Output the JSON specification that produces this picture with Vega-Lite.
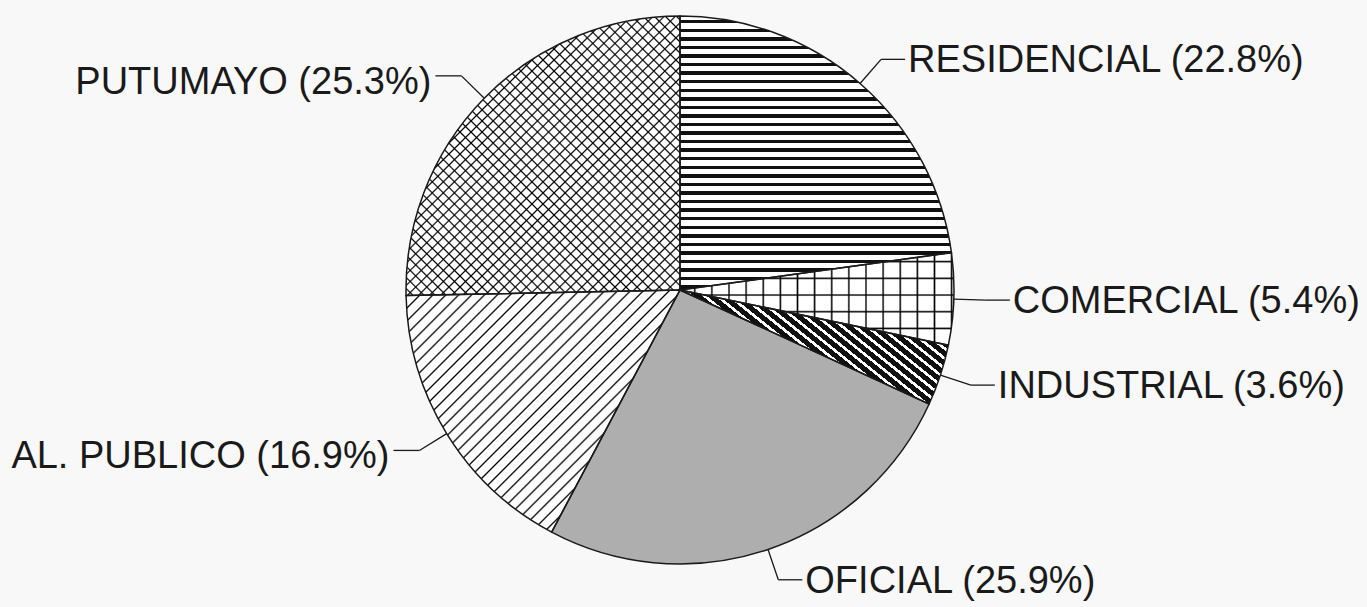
{
 "$schema": "https://vega.github.io/schema/vega-lite/v6.json",
 "width": 1360,
 "height": 548,
 "autosize": "none",
 "padding": {"left": 0, "top": 16, "right": 7, "bottom": 43},
 "background": "#f8f8f8",
 "config": {"view": {"stroke": null}},
 "datasets": {
  "slices": [
   {"cat": "RESIDENCIAL", "value": 22.8, "ord": 1, "label": "RESIDENCIAL (22.8%)"},
   {"cat": "COMERCIAL", "value": 5.4, "ord": 2, "label": "COMERCIAL (5.4%)"},
   {"cat": "INDUSTRIAL", "value": 3.6, "ord": 3, "label": "INDUSTRIAL (3.6%)"},
   {"cat": "OFICIAL", "value": 25.9, "ord": 4, "label": "OFICIAL (25.9%)"},
   {"cat": "AL. PUBLICO", "value": 16.9, "ord": 5, "label": "AL. PUBLICO (16.9%)"},
   {"cat": "PUTUMAYO", "value": 25.3, "ord": 6, "label": "PUTUMAYO (25.3%)"}
  ]
 },
 "layer": [
  {
   "data": {"name": "slices"},
   "mark": {"type": "arc"},
   "encoding": {
    "theta": {"field": "value", "type": "quantitative", "stack": true},
    "order": {"field": "ord", "type": "quantitative"},
    "fill": {"condition": {"test": "datum.cat === 'OFICIAL'", "value": "#aeaeae"}, "value": "#ffffff"}
   }
  },
  {
   "data": {"name": "slices"},
   "mark": {"type": "arc"},
   "encoding": {
    "theta": {"field": "value", "type": "quantitative", "stack": true},
    "order": {"field": "ord", "type": "quantitative"},
    "fill": {
     "condition": [
      {"test": "datum.cat === 'RESIDENCIAL'", "value": {"gradient": "linear", "x1": 0, "y1": 0, "x2": 0, "y2": 1, "stops": [
       {"offset":0.0147,"color":"transparent"},{"offset":0.0147,"color":"#111"},{"offset":0.0272,"color":"#111"},{"offset":0.0272,"color":"transparent"},
       {"offset":0.0460,"color":"transparent"},{"offset":0.0460,"color":"#111"},{"offset":0.0585,"color":"#111"},{"offset":0.0585,"color":"transparent"},
       {"offset":0.0772,"color":"transparent"},{"offset":0.0772,"color":"#111"},{"offset":0.0897,"color":"#111"},{"offset":0.0897,"color":"transparent"},
       {"offset":0.1085,"color":"transparent"},{"offset":0.1085,"color":"#111"},{"offset":0.1210,"color":"#111"},{"offset":0.1210,"color":"transparent"},
       {"offset":0.1397,"color":"transparent"},{"offset":0.1397,"color":"#111"},{"offset":0.1522,"color":"#111"},{"offset":0.1522,"color":"transparent"},
       {"offset":0.1710,"color":"transparent"},{"offset":0.1710,"color":"#111"},{"offset":0.1835,"color":"#111"},{"offset":0.1835,"color":"transparent"},
       {"offset":0.2022,"color":"transparent"},{"offset":0.2022,"color":"#111"},{"offset":0.2147,"color":"#111"},{"offset":0.2147,"color":"transparent"},
       {"offset":0.2335,"color":"transparent"},{"offset":0.2335,"color":"#111"},{"offset":0.2460,"color":"#111"},{"offset":0.2460,"color":"transparent"},
       {"offset":0.2647,"color":"transparent"},{"offset":0.2647,"color":"#111"},{"offset":0.2772,"color":"#111"},{"offset":0.2772,"color":"transparent"},
       {"offset":0.2960,"color":"transparent"},{"offset":0.2960,"color":"#111"},{"offset":0.3085,"color":"#111"},{"offset":0.3085,"color":"transparent"},
       {"offset":0.3272,"color":"transparent"},{"offset":0.3272,"color":"#111"},{"offset":0.3397,"color":"#111"},{"offset":0.3397,"color":"transparent"},
       {"offset":0.3585,"color":"transparent"},{"offset":0.3585,"color":"#111"},{"offset":0.3710,"color":"#111"},{"offset":0.3710,"color":"transparent"},
       {"offset":0.3897,"color":"transparent"},{"offset":0.3897,"color":"#111"},{"offset":0.4022,"color":"#111"},{"offset":0.4022,"color":"transparent"},
       {"offset":0.4210,"color":"transparent"},{"offset":0.4210,"color":"#111"},{"offset":0.4335,"color":"#111"},{"offset":0.4335,"color":"transparent"},
       {"offset":0.4522,"color":"transparent"},{"offset":0.4522,"color":"#111"},{"offset":0.4647,"color":"#111"},{"offset":0.4647,"color":"transparent"},
       {"offset":0.4835,"color":"transparent"},{"offset":0.4835,"color":"#111"},{"offset":0.4960,"color":"#111"},{"offset":0.4960,"color":"transparent"},
       {"offset":0.5147,"color":"transparent"},{"offset":0.5147,"color":"#111"},{"offset":0.5272,"color":"#111"},{"offset":0.5272,"color":"transparent"},
       {"offset":0.5460,"color":"transparent"},{"offset":0.5460,"color":"#111"},{"offset":0.5585,"color":"#111"},{"offset":0.5585,"color":"transparent"},
       {"offset":0.5772,"color":"transparent"},{"offset":0.5772,"color":"#111"},{"offset":0.5897,"color":"#111"},{"offset":0.5897,"color":"transparent"},
       {"offset":0.6085,"color":"transparent"},{"offset":0.6085,"color":"#111"},{"offset":0.6210,"color":"#111"},{"offset":0.6210,"color":"transparent"},
       {"offset":0.6397,"color":"transparent"},{"offset":0.6397,"color":"#111"},{"offset":0.6522,"color":"#111"},{"offset":0.6522,"color":"transparent"},
       {"offset":0.6710,"color":"transparent"},{"offset":0.6710,"color":"#111"},{"offset":0.6835,"color":"#111"},{"offset":0.6835,"color":"transparent"},
       {"offset":0.7022,"color":"transparent"},{"offset":0.7022,"color":"#111"},{"offset":0.7147,"color":"#111"},{"offset":0.7147,"color":"transparent"},
       {"offset":0.7335,"color":"transparent"},{"offset":0.7335,"color":"#111"},{"offset":0.7460,"color":"#111"},{"offset":0.7460,"color":"transparent"},
       {"offset":0.7647,"color":"transparent"},{"offset":0.7647,"color":"#111"},{"offset":0.7772,"color":"#111"},{"offset":0.7772,"color":"transparent"},
       {"offset":0.7960,"color":"transparent"},{"offset":0.7960,"color":"#111"},{"offset":0.8085,"color":"#111"},{"offset":0.8085,"color":"transparent"},
       {"offset":0.8272,"color":"transparent"},{"offset":0.8272,"color":"#111"},{"offset":0.8397,"color":"#111"},{"offset":0.8397,"color":"transparent"},
       {"offset":0.8585,"color":"transparent"},{"offset":0.8585,"color":"#111"},{"offset":0.8710,"color":"#111"},{"offset":0.8710,"color":"transparent"},
       {"offset":0.8897,"color":"transparent"},{"offset":0.8897,"color":"#111"},{"offset":0.9022,"color":"#111"},{"offset":0.9022,"color":"transparent"},
       {"offset":0.9210,"color":"transparent"},{"offset":0.9210,"color":"#111"},{"offset":0.9335,"color":"#111"},{"offset":0.9335,"color":"transparent"},
       {"offset":0.9522,"color":"transparent"},{"offset":0.9522,"color":"#111"},{"offset":0.9647,"color":"#111"},{"offset":0.9647,"color":"transparent"},
       {"offset":0.9835,"color":"transparent"},{"offset":0.9835,"color":"#111"},{"offset":0.9960,"color":"#111"},{"offset":0.9960,"color":"transparent"}
      ]}},
      {"test": "datum.cat === 'COMERCIAL'", "value": {"gradient": "linear", "x1": 0, "y1": 0, "x2": 1, "y2": 0, "stops": [
       {"offset":0.0483,"color":"transparent"},{"offset":0.0538,"color":"#000"},{"offset":0.0593,"color":"transparent"},
       {"offset":0.1108,"color":"transparent"},{"offset":0.1163,"color":"#000"},{"offset":0.1218,"color":"transparent"},
       {"offset":0.1733,"color":"transparent"},{"offset":0.1788,"color":"#000"},{"offset":0.1843,"color":"transparent"},
       {"offset":0.2358,"color":"transparent"},{"offset":0.2413,"color":"#000"},{"offset":0.2468,"color":"transparent"},
       {"offset":0.2983,"color":"transparent"},{"offset":0.3038,"color":"#000"},{"offset":0.3093,"color":"transparent"},
       {"offset":0.3608,"color":"transparent"},{"offset":0.3663,"color":"#000"},{"offset":0.3718,"color":"transparent"},
       {"offset":0.4233,"color":"transparent"},{"offset":0.4288,"color":"#000"},{"offset":0.4343,"color":"transparent"},
       {"offset":0.4858,"color":"transparent"},{"offset":0.4913,"color":"#000"},{"offset":0.4968,"color":"transparent"},
       {"offset":0.5483,"color":"transparent"},{"offset":0.5538,"color":"#000"},{"offset":0.5593,"color":"transparent"},
       {"offset":0.6108,"color":"transparent"},{"offset":0.6163,"color":"#000"},{"offset":0.6218,"color":"transparent"},
       {"offset":0.6733,"color":"transparent"},{"offset":0.6788,"color":"#000"},{"offset":0.6843,"color":"transparent"},
       {"offset":0.7358,"color":"transparent"},{"offset":0.7413,"color":"#000"},{"offset":0.7468,"color":"transparent"},
       {"offset":0.7983,"color":"transparent"},{"offset":0.8038,"color":"#000"},{"offset":0.8093,"color":"transparent"},
       {"offset":0.8608,"color":"transparent"},{"offset":0.8663,"color":"#000"},{"offset":0.8718,"color":"transparent"},
       {"offset":0.9233,"color":"transparent"},{"offset":0.9288,"color":"#000"},{"offset":0.9343,"color":"transparent"},
       {"offset":0.9858,"color":"transparent"},{"offset":0.9913,"color":"#000"},{"offset":0.9968,"color":"transparent"}
      ]}},
      {"test": "datum.cat === 'INDUSTRIAL'", "value": {"gradient": "linear", "x1": 1, "y1": 0, "x2": -0.1943, "y2": 0.6343, "stops": [
       {"offset":0,"color":"transparent"},{"offset":0.0106,"color":"transparent"},{"offset":0.0106,"color":"#111"},
       {"offset":0.0303,"color":"#111"},{"offset":0.0303,"color":"transparent"},{"offset":0.0409,"color":"transparent"},{"offset":0.0409,"color":"#111"},
       {"offset":0.0606,"color":"#111"},{"offset":0.0606,"color":"transparent"},{"offset":0.0712,"color":"transparent"},{"offset":0.0712,"color":"#111"},
       {"offset":0.0909,"color":"#111"},{"offset":0.0909,"color":"transparent"},{"offset":0.1015,"color":"transparent"},{"offset":0.1015,"color":"#111"},
       {"offset":0.1212,"color":"#111"},{"offset":0.1212,"color":"transparent"},{"offset":0.1318,"color":"transparent"},{"offset":0.1318,"color":"#111"},
       {"offset":0.1515,"color":"#111"},{"offset":0.1515,"color":"transparent"},{"offset":0.1621,"color":"transparent"},{"offset":0.1621,"color":"#111"},
       {"offset":0.1818,"color":"#111"},{"offset":0.1818,"color":"transparent"},{"offset":0.1924,"color":"transparent"},{"offset":0.1924,"color":"#111"},
       {"offset":0.2121,"color":"#111"},{"offset":0.2121,"color":"transparent"},{"offset":0.2227,"color":"transparent"},{"offset":0.2227,"color":"#111"},
       {"offset":0.2424,"color":"#111"},{"offset":0.2424,"color":"transparent"},{"offset":0.2530,"color":"transparent"},{"offset":0.2530,"color":"#111"},
       {"offset":0.2727,"color":"#111"},{"offset":0.2727,"color":"transparent"},{"offset":0.2833,"color":"transparent"},{"offset":0.2833,"color":"#111"},
       {"offset":0.3030,"color":"#111"},{"offset":0.3030,"color":"transparent"},{"offset":0.3136,"color":"transparent"},{"offset":0.3136,"color":"#111"},
       {"offset":0.3333,"color":"#111"},{"offset":0.3333,"color":"transparent"},{"offset":0.3439,"color":"transparent"},{"offset":0.3439,"color":"#111"},
       {"offset":0.3636,"color":"#111"},{"offset":0.3636,"color":"transparent"},{"offset":0.3742,"color":"transparent"},{"offset":0.3742,"color":"#111"},
       {"offset":0.3939,"color":"#111"},{"offset":0.3939,"color":"transparent"},{"offset":0.4045,"color":"transparent"},{"offset":0.4045,"color":"#111"},
       {"offset":0.4242,"color":"#111"},{"offset":0.4242,"color":"transparent"},{"offset":0.4348,"color":"transparent"},{"offset":0.4348,"color":"#111"},
       {"offset":0.4545,"color":"#111"},{"offset":0.4545,"color":"transparent"},{"offset":0.4651,"color":"transparent"},{"offset":0.4651,"color":"#111"},
       {"offset":0.4848,"color":"#111"},{"offset":0.4848,"color":"transparent"},{"offset":0.4954,"color":"transparent"},{"offset":0.4954,"color":"#111"},
       {"offset":0.5152,"color":"#111"},{"offset":0.5152,"color":"transparent"},{"offset":0.5258,"color":"transparent"},{"offset":0.5258,"color":"#111"},
       {"offset":0.5455,"color":"#111"},{"offset":0.5455,"color":"transparent"},{"offset":0.5561,"color":"transparent"},{"offset":0.5561,"color":"#111"},
       {"offset":0.5758,"color":"#111"},{"offset":0.5758,"color":"transparent"},{"offset":0.5864,"color":"transparent"},{"offset":0.5864,"color":"#111"},
       {"offset":0.6061,"color":"#111"},{"offset":0.6061,"color":"transparent"},{"offset":0.6167,"color":"transparent"},{"offset":0.6167,"color":"#111"},
       {"offset":0.6364,"color":"#111"},{"offset":0.6364,"color":"transparent"},{"offset":0.6470,"color":"transparent"},{"offset":0.6470,"color":"#111"},
       {"offset":0.6667,"color":"#111"},{"offset":0.6667,"color":"transparent"},{"offset":0.6773,"color":"transparent"},{"offset":0.6773,"color":"#111"},
       {"offset":0.6970,"color":"#111"},{"offset":0.6970,"color":"transparent"},{"offset":0.7076,"color":"transparent"},{"offset":0.7076,"color":"#111"},
       {"offset":0.7273,"color":"#111"},{"offset":0.7273,"color":"transparent"},{"offset":0.7379,"color":"transparent"},{"offset":0.7379,"color":"#111"},
       {"offset":0.7576,"color":"#111"},{"offset":0.7576,"color":"transparent"},{"offset":0.7682,"color":"transparent"},{"offset":0.7682,"color":"#111"},
       {"offset":0.7879,"color":"#111"},{"offset":0.7879,"color":"transparent"},{"offset":0.7985,"color":"transparent"},{"offset":0.7985,"color":"#111"},
       {"offset":0.8182,"color":"#111"},{"offset":0.8182,"color":"transparent"},{"offset":0.8288,"color":"transparent"},{"offset":0.8288,"color":"#111"},
       {"offset":0.8485,"color":"#111"},{"offset":0.8485,"color":"transparent"},{"offset":0.8591,"color":"transparent"},{"offset":0.8591,"color":"#111"},
       {"offset":0.8788,"color":"#111"},{"offset":0.8788,"color":"transparent"},{"offset":0.8894,"color":"transparent"},{"offset":0.8894,"color":"#111"},
       {"offset":0.9091,"color":"#111"},{"offset":0.9091,"color":"transparent"},{"offset":0.9197,"color":"transparent"},{"offset":0.9197,"color":"#111"},
       {"offset":0.9394,"color":"#111"},{"offset":0.9394,"color":"transparent"},{"offset":0.9500,"color":"transparent"},{"offset":0.9500,"color":"#111"},
       {"offset":0.9697,"color":"#111"},{"offset":0.9697,"color":"transparent"},{"offset":0.9803,"color":"transparent"},{"offset":0.9803,"color":"#111"}
      ]}},
      {"test": "datum.cat === 'AL. PUBLICO'", "value": {"gradient": "linear", "x1": 0, "y1": 0, "x2": 1.0577, "y2": 0.9347, "stops": [
       {"offset":0.008,"color":"transparent"},{"offset":0.0115,"color":"#000"},{"offset":0.015,"color":"transparent"},
       {"offset":0.033,"color":"transparent"},{"offset":0.0365,"color":"#000"},{"offset":0.040,"color":"transparent"},
       {"offset":0.058,"color":"transparent"},{"offset":0.0615,"color":"#000"},{"offset":0.065,"color":"transparent"},
       {"offset":0.083,"color":"transparent"},{"offset":0.0865,"color":"#000"},{"offset":0.090,"color":"transparent"},
       {"offset":0.108,"color":"transparent"},{"offset":0.1115,"color":"#000"},{"offset":0.115,"color":"transparent"},
       {"offset":0.133,"color":"transparent"},{"offset":0.1365,"color":"#000"},{"offset":0.140,"color":"transparent"},
       {"offset":0.158,"color":"transparent"},{"offset":0.1615,"color":"#000"},{"offset":0.165,"color":"transparent"},
       {"offset":0.183,"color":"transparent"},{"offset":0.1865,"color":"#000"},{"offset":0.190,"color":"transparent"},
       {"offset":0.208,"color":"transparent"},{"offset":0.2115,"color":"#000"},{"offset":0.215,"color":"transparent"},
       {"offset":0.233,"color":"transparent"},{"offset":0.2365,"color":"#000"},{"offset":0.240,"color":"transparent"},
       {"offset":0.258,"color":"transparent"},{"offset":0.2615,"color":"#000"},{"offset":0.265,"color":"transparent"},
       {"offset":0.283,"color":"transparent"},{"offset":0.2865,"color":"#000"},{"offset":0.290,"color":"transparent"},
       {"offset":0.308,"color":"transparent"},{"offset":0.3115,"color":"#000"},{"offset":0.315,"color":"transparent"},
       {"offset":0.333,"color":"transparent"},{"offset":0.3365,"color":"#000"},{"offset":0.340,"color":"transparent"},
       {"offset":0.358,"color":"transparent"},{"offset":0.3615,"color":"#000"},{"offset":0.365,"color":"transparent"},
       {"offset":0.383,"color":"transparent"},{"offset":0.3865,"color":"#000"},{"offset":0.390,"color":"transparent"},
       {"offset":0.408,"color":"transparent"},{"offset":0.4115,"color":"#000"},{"offset":0.415,"color":"transparent"},
       {"offset":0.433,"color":"transparent"},{"offset":0.4365,"color":"#000"},{"offset":0.440,"color":"transparent"},
       {"offset":0.458,"color":"transparent"},{"offset":0.4615,"color":"#000"},{"offset":0.465,"color":"transparent"},
       {"offset":0.483,"color":"transparent"},{"offset":0.4865,"color":"#000"},{"offset":0.490,"color":"transparent"},
       {"offset":0.508,"color":"transparent"},{"offset":0.5115,"color":"#000"},{"offset":0.515,"color":"transparent"},
       {"offset":0.533,"color":"transparent"},{"offset":0.5365,"color":"#000"},{"offset":0.540,"color":"transparent"},
       {"offset":0.558,"color":"transparent"},{"offset":0.5615,"color":"#000"},{"offset":0.565,"color":"transparent"},
       {"offset":0.583,"color":"transparent"},{"offset":0.5865,"color":"#000"},{"offset":0.590,"color":"transparent"},
       {"offset":0.608,"color":"transparent"},{"offset":0.6115,"color":"#000"},{"offset":0.615,"color":"transparent"},
       {"offset":0.633,"color":"transparent"},{"offset":0.6365,"color":"#000"},{"offset":0.640,"color":"transparent"},
       {"offset":0.658,"color":"transparent"},{"offset":0.6615,"color":"#000"},{"offset":0.665,"color":"transparent"},
       {"offset":0.683,"color":"transparent"},{"offset":0.6865,"color":"#000"},{"offset":0.690,"color":"transparent"},
       {"offset":0.708,"color":"transparent"},{"offset":0.7115,"color":"#000"},{"offset":0.715,"color":"transparent"},
       {"offset":0.733,"color":"transparent"},{"offset":0.7365,"color":"#000"},{"offset":0.740,"color":"transparent"},
       {"offset":0.758,"color":"transparent"},{"offset":0.7615,"color":"#000"},{"offset":0.765,"color":"transparent"},
       {"offset":0.783,"color":"transparent"},{"offset":0.7865,"color":"#000"},{"offset":0.790,"color":"transparent"},
       {"offset":0.808,"color":"transparent"},{"offset":0.8115,"color":"#000"},{"offset":0.815,"color":"transparent"},
       {"offset":0.833,"color":"transparent"},{"offset":0.8365,"color":"#000"},{"offset":0.840,"color":"transparent"},
       {"offset":0.858,"color":"transparent"},{"offset":0.8615,"color":"#000"},{"offset":0.865,"color":"transparent"},
       {"offset":0.883,"color":"transparent"},{"offset":0.8865,"color":"#000"},{"offset":0.890,"color":"transparent"},
       {"offset":0.908,"color":"transparent"},{"offset":0.9115,"color":"#000"},{"offset":0.915,"color":"transparent"},
       {"offset":0.933,"color":"transparent"},{"offset":0.9365,"color":"#000"},{"offset":0.940,"color":"transparent"},
       {"offset":0.958,"color":"transparent"},{"offset":0.9615,"color":"#000"},{"offset":0.965,"color":"transparent"},
       {"offset":0.983,"color":"transparent"},{"offset":0.9865,"color":"#000"},{"offset":0.990,"color":"transparent"}
      ]}},
      {"test": "datum.cat === 'PUTUMAYO'", "value": {"gradient": "linear", "x1": 0, "y1": 0, "x2": 0.9898, "y2": 1.0100, "stops": [
       {"offset":0.004,"color":"transparent"},{"offset":0.007,"color":"#000"},{"offset":0.010,"color":"transparent"},
       {"offset":0.024,"color":"transparent"},{"offset":0.027,"color":"#000"},{"offset":0.030,"color":"transparent"},
       {"offset":0.044,"color":"transparent"},{"offset":0.047,"color":"#000"},{"offset":0.050,"color":"transparent"},
       {"offset":0.064,"color":"transparent"},{"offset":0.067,"color":"#000"},{"offset":0.070,"color":"transparent"},
       {"offset":0.084,"color":"transparent"},{"offset":0.087,"color":"#000"},{"offset":0.090,"color":"transparent"},
       {"offset":0.104,"color":"transparent"},{"offset":0.107,"color":"#000"},{"offset":0.110,"color":"transparent"},
       {"offset":0.124,"color":"transparent"},{"offset":0.127,"color":"#000"},{"offset":0.130,"color":"transparent"},
       {"offset":0.144,"color":"transparent"},{"offset":0.147,"color":"#000"},{"offset":0.150,"color":"transparent"},
       {"offset":0.164,"color":"transparent"},{"offset":0.167,"color":"#000"},{"offset":0.170,"color":"transparent"},
       {"offset":0.184,"color":"transparent"},{"offset":0.187,"color":"#000"},{"offset":0.190,"color":"transparent"},
       {"offset":0.204,"color":"transparent"},{"offset":0.207,"color":"#000"},{"offset":0.210,"color":"transparent"},
       {"offset":0.224,"color":"transparent"},{"offset":0.227,"color":"#000"},{"offset":0.230,"color":"transparent"},
       {"offset":0.244,"color":"transparent"},{"offset":0.247,"color":"#000"},{"offset":0.250,"color":"transparent"},
       {"offset":0.264,"color":"transparent"},{"offset":0.267,"color":"#000"},{"offset":0.270,"color":"transparent"},
       {"offset":0.284,"color":"transparent"},{"offset":0.287,"color":"#000"},{"offset":0.290,"color":"transparent"},
       {"offset":0.304,"color":"transparent"},{"offset":0.307,"color":"#000"},{"offset":0.310,"color":"transparent"},
       {"offset":0.324,"color":"transparent"},{"offset":0.327,"color":"#000"},{"offset":0.330,"color":"transparent"},
       {"offset":0.344,"color":"transparent"},{"offset":0.347,"color":"#000"},{"offset":0.350,"color":"transparent"},
       {"offset":0.364,"color":"transparent"},{"offset":0.367,"color":"#000"},{"offset":0.370,"color":"transparent"},
       {"offset":0.384,"color":"transparent"},{"offset":0.387,"color":"#000"},{"offset":0.390,"color":"transparent"},
       {"offset":0.404,"color":"transparent"},{"offset":0.407,"color":"#000"},{"offset":0.410,"color":"transparent"},
       {"offset":0.424,"color":"transparent"},{"offset":0.427,"color":"#000"},{"offset":0.430,"color":"transparent"},
       {"offset":0.444,"color":"transparent"},{"offset":0.447,"color":"#000"},{"offset":0.450,"color":"transparent"},
       {"offset":0.464,"color":"transparent"},{"offset":0.467,"color":"#000"},{"offset":0.470,"color":"transparent"},
       {"offset":0.484,"color":"transparent"},{"offset":0.487,"color":"#000"},{"offset":0.490,"color":"transparent"},
       {"offset":0.504,"color":"transparent"},{"offset":0.507,"color":"#000"},{"offset":0.510,"color":"transparent"},
       {"offset":0.524,"color":"transparent"},{"offset":0.527,"color":"#000"},{"offset":0.530,"color":"transparent"},
       {"offset":0.544,"color":"transparent"},{"offset":0.547,"color":"#000"},{"offset":0.550,"color":"transparent"},
       {"offset":0.564,"color":"transparent"},{"offset":0.567,"color":"#000"},{"offset":0.570,"color":"transparent"},
       {"offset":0.584,"color":"transparent"},{"offset":0.587,"color":"#000"},{"offset":0.590,"color":"transparent"},
       {"offset":0.604,"color":"transparent"},{"offset":0.607,"color":"#000"},{"offset":0.610,"color":"transparent"},
       {"offset":0.624,"color":"transparent"},{"offset":0.627,"color":"#000"},{"offset":0.630,"color":"transparent"},
       {"offset":0.644,"color":"transparent"},{"offset":0.647,"color":"#000"},{"offset":0.650,"color":"transparent"},
       {"offset":0.664,"color":"transparent"},{"offset":0.667,"color":"#000"},{"offset":0.670,"color":"transparent"},
       {"offset":0.684,"color":"transparent"},{"offset":0.687,"color":"#000"},{"offset":0.690,"color":"transparent"},
       {"offset":0.704,"color":"transparent"},{"offset":0.707,"color":"#000"},{"offset":0.710,"color":"transparent"},
       {"offset":0.724,"color":"transparent"},{"offset":0.727,"color":"#000"},{"offset":0.730,"color":"transparent"},
       {"offset":0.744,"color":"transparent"},{"offset":0.747,"color":"#000"},{"offset":0.750,"color":"transparent"},
       {"offset":0.764,"color":"transparent"},{"offset":0.767,"color":"#000"},{"offset":0.770,"color":"transparent"},
       {"offset":0.784,"color":"transparent"},{"offset":0.787,"color":"#000"},{"offset":0.790,"color":"transparent"},
       {"offset":0.804,"color":"transparent"},{"offset":0.807,"color":"#000"},{"offset":0.810,"color":"transparent"},
       {"offset":0.824,"color":"transparent"},{"offset":0.827,"color":"#000"},{"offset":0.830,"color":"transparent"},
       {"offset":0.844,"color":"transparent"},{"offset":0.847,"color":"#000"},{"offset":0.850,"color":"transparent"},
       {"offset":0.864,"color":"transparent"},{"offset":0.867,"color":"#000"},{"offset":0.870,"color":"transparent"},
       {"offset":0.884,"color":"transparent"},{"offset":0.887,"color":"#000"},{"offset":0.890,"color":"transparent"},
       {"offset":0.904,"color":"transparent"},{"offset":0.907,"color":"#000"},{"offset":0.910,"color":"transparent"},
       {"offset":0.924,"color":"transparent"},{"offset":0.927,"color":"#000"},{"offset":0.930,"color":"transparent"},
       {"offset":0.944,"color":"transparent"},{"offset":0.947,"color":"#000"},{"offset":0.950,"color":"transparent"},
       {"offset":0.964,"color":"transparent"},{"offset":0.967,"color":"#000"},{"offset":0.970,"color":"transparent"},
       {"offset":0.984,"color":"transparent"},{"offset":0.987,"color":"#000"},{"offset":0.990,"color":"transparent"}
      ]}}
     ],
     "value": "transparent"
    }
   }
  },
  {
   "data": {"name": "slices"},
   "mark": {"type": "arc"},
   "encoding": {
    "theta": {"field": "value", "type": "quantitative", "stack": true},
    "order": {"field": "ord", "type": "quantitative"},
    "fill": {
     "condition": [
      {"test": "datum.cat === 'COMERCIAL'", "value": {"gradient": "linear", "x1": 0, "y1": 0, "x2": 0, "y2": 1, "stops": [
       {"offset":0.0810,"color":"transparent"},{"offset":0.0972,"color":"#000"},{"offset":0.1134,"color":"transparent"},
       {"offset":0.2614,"color":"transparent"},{"offset":0.2776,"color":"#000"},{"offset":0.2938,"color":"transparent"},
       {"offset":0.4418,"color":"transparent"},{"offset":0.4580,"color":"#000"},{"offset":0.4742,"color":"transparent"},
       {"offset":0.6222,"color":"transparent"},{"offset":0.6384,"color":"#000"},{"offset":0.6546,"color":"transparent"},
       {"offset":0.8026,"color":"transparent"},{"offset":0.8188,"color":"#000"},{"offset":0.8350,"color":"transparent"}
      ]}},
      {"test": "datum.cat === 'PUTUMAYO'", "value": {"gradient": "linear", "x1": 1, "y1": 0, "x2": 0.0102, "y2": 1.0100, "stops": [
       {"offset":0.004,"color":"transparent"},{"offset":0.007,"color":"#000"},{"offset":0.010,"color":"transparent"},
       {"offset":0.024,"color":"transparent"},{"offset":0.027,"color":"#000"},{"offset":0.030,"color":"transparent"},
       {"offset":0.044,"color":"transparent"},{"offset":0.047,"color":"#000"},{"offset":0.050,"color":"transparent"},
       {"offset":0.064,"color":"transparent"},{"offset":0.067,"color":"#000"},{"offset":0.070,"color":"transparent"},
       {"offset":0.084,"color":"transparent"},{"offset":0.087,"color":"#000"},{"offset":0.090,"color":"transparent"},
       {"offset":0.104,"color":"transparent"},{"offset":0.107,"color":"#000"},{"offset":0.110,"color":"transparent"},
       {"offset":0.124,"color":"transparent"},{"offset":0.127,"color":"#000"},{"offset":0.130,"color":"transparent"},
       {"offset":0.144,"color":"transparent"},{"offset":0.147,"color":"#000"},{"offset":0.150,"color":"transparent"},
       {"offset":0.164,"color":"transparent"},{"offset":0.167,"color":"#000"},{"offset":0.170,"color":"transparent"},
       {"offset":0.184,"color":"transparent"},{"offset":0.187,"color":"#000"},{"offset":0.190,"color":"transparent"},
       {"offset":0.204,"color":"transparent"},{"offset":0.207,"color":"#000"},{"offset":0.210,"color":"transparent"},
       {"offset":0.224,"color":"transparent"},{"offset":0.227,"color":"#000"},{"offset":0.230,"color":"transparent"},
       {"offset":0.244,"color":"transparent"},{"offset":0.247,"color":"#000"},{"offset":0.250,"color":"transparent"},
       {"offset":0.264,"color":"transparent"},{"offset":0.267,"color":"#000"},{"offset":0.270,"color":"transparent"},
       {"offset":0.284,"color":"transparent"},{"offset":0.287,"color":"#000"},{"offset":0.290,"color":"transparent"},
       {"offset":0.304,"color":"transparent"},{"offset":0.307,"color":"#000"},{"offset":0.310,"color":"transparent"},
       {"offset":0.324,"color":"transparent"},{"offset":0.327,"color":"#000"},{"offset":0.330,"color":"transparent"},
       {"offset":0.344,"color":"transparent"},{"offset":0.347,"color":"#000"},{"offset":0.350,"color":"transparent"},
       {"offset":0.364,"color":"transparent"},{"offset":0.367,"color":"#000"},{"offset":0.370,"color":"transparent"},
       {"offset":0.384,"color":"transparent"},{"offset":0.387,"color":"#000"},{"offset":0.390,"color":"transparent"},
       {"offset":0.404,"color":"transparent"},{"offset":0.407,"color":"#000"},{"offset":0.410,"color":"transparent"},
       {"offset":0.424,"color":"transparent"},{"offset":0.427,"color":"#000"},{"offset":0.430,"color":"transparent"},
       {"offset":0.444,"color":"transparent"},{"offset":0.447,"color":"#000"},{"offset":0.450,"color":"transparent"},
       {"offset":0.464,"color":"transparent"},{"offset":0.467,"color":"#000"},{"offset":0.470,"color":"transparent"},
       {"offset":0.484,"color":"transparent"},{"offset":0.487,"color":"#000"},{"offset":0.490,"color":"transparent"},
       {"offset":0.504,"color":"transparent"},{"offset":0.507,"color":"#000"},{"offset":0.510,"color":"transparent"},
       {"offset":0.524,"color":"transparent"},{"offset":0.527,"color":"#000"},{"offset":0.530,"color":"transparent"},
       {"offset":0.544,"color":"transparent"},{"offset":0.547,"color":"#000"},{"offset":0.550,"color":"transparent"},
       {"offset":0.564,"color":"transparent"},{"offset":0.567,"color":"#000"},{"offset":0.570,"color":"transparent"},
       {"offset":0.584,"color":"transparent"},{"offset":0.587,"color":"#000"},{"offset":0.590,"color":"transparent"},
       {"offset":0.604,"color":"transparent"},{"offset":0.607,"color":"#000"},{"offset":0.610,"color":"transparent"},
       {"offset":0.624,"color":"transparent"},{"offset":0.627,"color":"#000"},{"offset":0.630,"color":"transparent"},
       {"offset":0.644,"color":"transparent"},{"offset":0.647,"color":"#000"},{"offset":0.650,"color":"transparent"},
       {"offset":0.664,"color":"transparent"},{"offset":0.667,"color":"#000"},{"offset":0.670,"color":"transparent"},
       {"offset":0.684,"color":"transparent"},{"offset":0.687,"color":"#000"},{"offset":0.690,"color":"transparent"},
       {"offset":0.704,"color":"transparent"},{"offset":0.707,"color":"#000"},{"offset":0.710,"color":"transparent"},
       {"offset":0.724,"color":"transparent"},{"offset":0.727,"color":"#000"},{"offset":0.730,"color":"transparent"},
       {"offset":0.744,"color":"transparent"},{"offset":0.747,"color":"#000"},{"offset":0.750,"color":"transparent"},
       {"offset":0.764,"color":"transparent"},{"offset":0.767,"color":"#000"},{"offset":0.770,"color":"transparent"},
       {"offset":0.784,"color":"transparent"},{"offset":0.787,"color":"#000"},{"offset":0.790,"color":"transparent"},
       {"offset":0.804,"color":"transparent"},{"offset":0.807,"color":"#000"},{"offset":0.810,"color":"transparent"},
       {"offset":0.824,"color":"transparent"},{"offset":0.827,"color":"#000"},{"offset":0.830,"color":"transparent"},
       {"offset":0.844,"color":"transparent"},{"offset":0.847,"color":"#000"},{"offset":0.850,"color":"transparent"},
       {"offset":0.864,"color":"transparent"},{"offset":0.867,"color":"#000"},{"offset":0.870,"color":"transparent"},
       {"offset":0.884,"color":"transparent"},{"offset":0.887,"color":"#000"},{"offset":0.890,"color":"transparent"},
       {"offset":0.904,"color":"transparent"},{"offset":0.907,"color":"#000"},{"offset":0.910,"color":"transparent"},
       {"offset":0.924,"color":"transparent"},{"offset":0.927,"color":"#000"},{"offset":0.930,"color":"transparent"},
       {"offset":0.944,"color":"transparent"},{"offset":0.947,"color":"#000"},{"offset":0.950,"color":"transparent"},
       {"offset":0.964,"color":"transparent"},{"offset":0.967,"color":"#000"},{"offset":0.970,"color":"transparent"},
       {"offset":0.984,"color":"transparent"},{"offset":0.987,"color":"#000"},{"offset":0.990,"color":"transparent"}
      ]}}
     ],
     "value": "transparent"
    }
   }
  },
  {
   "data": {"name": "slices"},
   "mark": {"type": "arc", "filled": false, "stroke": "#1a1a1a", "strokeWidth": 1.5},
   "encoding": {
    "theta": {"field": "value", "type": "quantitative", "stack": true},
    "order": {"field": "ord", "type": "quantitative"}
   }
  },
  {
   "data": {"name": "slices"},
   "transform": [
    {"window": [{"op": "sum", "field": "value", "as": "cum"}], "sort": [{"field": "ord"}]},
    {"joinaggregate": [{"op": "sum", "field": "value", "as": "tot"}]}
   ],
   "mark": {"type": "rule", "stroke": "#1a1a1a", "strokeWidth": 1.3},
   "encoding": {
    "x": {"value": {"expr": "width/2+274*sin(2*PI*(datum.cum-datum.value/2)/datum.tot)"}},
    "y": {"value": {"expr": "height/2-274*cos(2*PI*(datum.cum-datum.value/2)/datum.tot)"}},
    "x2": {"value": {"expr": "width/2+306*sin(2*PI*(datum.cum-datum.value/2)/datum.tot)"}},
    "y2": {"value": {"expr": "height/2-306*cos(2*PI*(datum.cum-datum.value/2)/datum.tot)"}}
   }
  },
  {
   "data": {"name": "slices"},
   "transform": [
    {"window": [{"op": "sum", "field": "value", "as": "cum"}], "sort": [{"field": "ord"}]},
    {"joinaggregate": [{"op": "sum", "field": "value", "as": "tot"}]}
   ],
   "mark": {"type": "rule", "stroke": "#1a1a1a", "strokeWidth": 1.3},
   "encoding": {
    "x": {"value": {"expr": "width/2+306*sin(2*PI*(datum.cum-datum.value/2)/datum.tot)"}},
    "y": {"value": {"expr": "height/2-306*cos(2*PI*(datum.cum-datum.value/2)/datum.tot)"}},
    "x2": {"value": {"expr": "width/2+306*sin(2*PI*(datum.cum-datum.value/2)/datum.tot)+(sin(2*PI*(datum.cum-datum.value/2)/datum.tot)>0?24:-26)"}},
    "y2": {"value": {"expr": "height/2-306*cos(2*PI*(datum.cum-datum.value/2)/datum.tot)"}}
   }
  },
  {
   "data": {"name": "slices"},
   "transform": [
    {"window": [{"op": "sum", "field": "value", "as": "cum"}], "sort": [{"field": "ord"}]},
    {"joinaggregate": [{"op": "sum", "field": "value", "as": "tot"}]}
   ],
   "mark": {"type": "text", "font": "Liberation Sans", "fontSize": 38, "color": "#1a1a1a", "baseline": "alphabetic",
            "align": {"expr": "sin(2*PI*(datum.cum-datum.value/2)/datum.tot)>0?'left':'right'"}},
   "encoding": {
    "x": {"value": {"expr": "width/2+306*sin(2*PI*(datum.cum-datum.value/2)/datum.tot)+(sin(2*PI*(datum.cum-datum.value/2)/datum.tot)>0?27:-30)"}},
    "y": {"value": {"expr": "height/2-306*cos(2*PI*(datum.cum-datum.value/2)/datum.tot)+(sin(2*PI*(datum.cum-datum.value/2)/datum.tot)>0?13:18)"}},
    "text": {"field": "label", "type": "nominal"}
   }
  }
 ]
}
